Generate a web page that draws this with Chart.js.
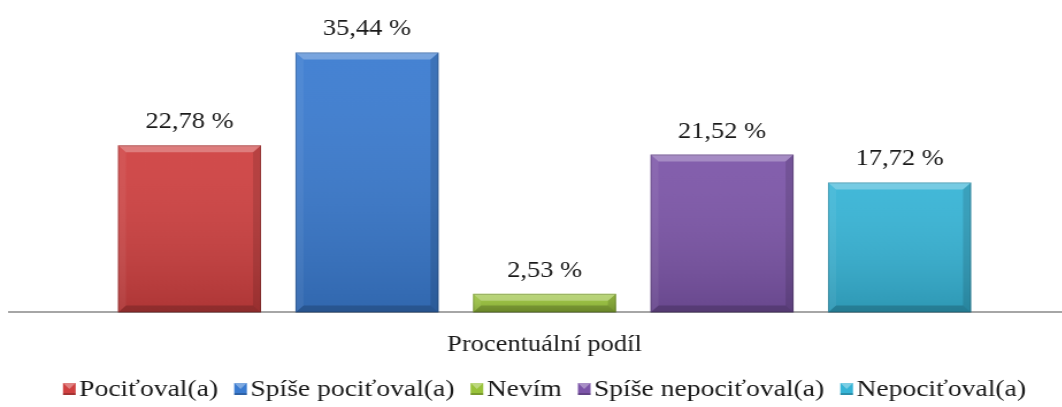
<!DOCTYPE html>
<html>
<head>
<meta charset="utf-8">
<script src="https://cdn.jsdelivr.net/npm/chart.js@4"></script>
<style>
  html, body { margin: 0; padding: 0; background: #fff; overflow: hidden; }
  /* the reference is a bit stretched sideways, so the whole chart is too */
  #wrap { position: relative; width: 947px; height: 407px; transform: scaleX(1.15); transform-origin: 0 0; }
</style>
</head>
<body>
<div id="wrap"><canvas id="chart"></canvas></div>
<script>
// data
const categories = ['Procentuální podíl'];
const seriesNames = ['Pociťoval(a)', 'Spíše pociťoval(a)', 'Nevím', 'Spíše nepociťoval(a)', 'Nepociťoval(a)'];
const seriesValues = [22.78, 35.44, 2.53, 21.52, 17.72];
const seriesColors = ['#cf4040', '#3a7bd0', '#98c23a', '#7c55a8', '#36b4d6'];

const serif = "'Liberation Serif', 'DejaVu Serif', serif";

// value labels above the bars
const valueLabels = {
  id: 'valueLabels',
  afterDatasetsDraw(chart) {
    const ctx = chart.ctx;
    ctx.save();
    ctx.font = '23px ' + serif;
    ctx.fillStyle = '#1a1a1a';
    ctx.textAlign = 'center';
    ctx.textBaseline = 'alphabetic';
    chart.data.datasets.forEach((ds, i) => {
      chart.getDatasetMeta(i).data.forEach((bar, j) => {
        const txt = ds.data[j].toFixed(2).replace('.', ',') + ' %';
        ctx.fillText(txt, bar.x, bar.y - 17);
      });
    });
    ctx.restore();
  }
};

// bevel look like the office charts
const bevel = {
  id: 'bevel',
  afterDatasetsDraw(chart) {
    const ctx = chart.ctx;
    chart.data.datasets.forEach((ds, i) => {
      chart.getDatasetMeta(i).data.forEach(bar => {
        const p = bar.getProps(['x', 'y', 'base', 'width'], true);
        const l = p.x - p.width / 2, r = p.x + p.width / 2;
        const t = p.y, b = p.base;
        const h = b - t;
        const s = Math.min(7, h / 2);
        ctx.save();
        // vertical shading
        const g = ctx.createLinearGradient(0, t, 0, b);
        g.addColorStop(0, 'rgba(255,255,255,0.06)');
        g.addColorStop(1, 'rgba(0,0,0,0.16)');
        ctx.fillStyle = g;
        ctx.fillRect(l, t, r - l, h);
        // top edge
        ctx.fillStyle = 'rgba(255,255,255,0.28)';
        ctx.beginPath();
        ctx.moveTo(l, t); ctx.lineTo(r, t); ctx.lineTo(r - s, t + s); ctx.lineTo(l + s, t + s);
        ctx.closePath(); ctx.fill();
        // left edge
        ctx.fillStyle = 'rgba(255,255,255,0.06)';
        ctx.beginPath();
        ctx.moveTo(l, t); ctx.lineTo(l + s, t + s); ctx.lineTo(l + s, b - s); ctx.lineTo(l, b);
        ctx.closePath(); ctx.fill();
        // right edge
        ctx.fillStyle = 'rgba(0,0,0,0.12)';
        ctx.beginPath();
        ctx.moveTo(r, t); ctx.lineTo(r - s, t + s); ctx.lineTo(r - s, b - s); ctx.lineTo(r, b);
        ctx.closePath(); ctx.fill();
        // bottom edge
        ctx.fillStyle = 'rgba(0,0,0,0.18)';
        ctx.beginPath();
        ctx.moveTo(l, b); ctx.lineTo(l + s, b - s); ctx.lineTo(r - s, b - s); ctx.lineTo(r, b);
        ctx.closePath(); ctx.fill();
        ctx.strokeStyle = 'rgba(0,0,0,0.18)';
        ctx.lineWidth = 1;
        ctx.strokeRect(l + 0.5, t + 0.5, r - l - 1, h - 1);
        ctx.restore();
      });
    });
  }
};

// legend drawn by hand: small square close to its text
const bottomLegend = {
  id: 'bottomLegend',
  afterDraw(chart) {
    const ctx = chart.ctx;
    const box = 11, gap = 3, sep = 14, y = 389;
    ctx.save();
    ctx.font = '24px ' + serif;
    const items = chart.data.datasets.map(ds => ({
      text: ds.label, color: ds.backgroundColor, w: ctx.measureText(ds.label).width
    }));
    const total = items.reduce((a, it) => a + box + gap + it.w, 0) + sep * (items.length - 1);
    let x = (chart.width - total) / 2;
    ctx.textBaseline = 'middle';
    ctx.textAlign = 'left';
    items.forEach(it => {
      const top = y - 6;
      ctx.fillStyle = it.color;
      ctx.fillRect(x, top, box, 12);
      ctx.fillStyle = 'rgba(255,255,255,0.35)';
      ctx.beginPath();
      ctx.moveTo(x, top); ctx.lineTo(x + box, top); ctx.lineTo(x + box / 2, top + 6);
      ctx.closePath(); ctx.fill();
      ctx.fillStyle = 'rgba(0,0,0,0.2)';
      ctx.fillRect(x, top + 10, box, 2);
      ctx.fillStyle = '#1a1a1a';
      ctx.fillText(it.text, x + box + gap, y + 1);
      x += box + gap + it.w + sep;
    });
    ctx.restore();
  }
};

const ctx = document.getElementById('chart').getContext('2d');
new Chart(ctx, {
  type: 'bar',
  data: {
    labels: categories,
    datasets: seriesNames.map((name, i) => ({
      label: name,
      data: [seriesValues[i]],
      backgroundColor: seriesColors[i],
      borderWidth: 0,
      categoryPercentage: 0.829,
      barPercentage: 0.806
    }))
  },
  options: {
    responsive: true,
    maintainAspectRatio: false,
    animation: false,
    layout: { padding: { left: 8, right: 8, top: 19, bottom: 37 } },
    scales: {
      x: {
        grid: { display: false },
        border: { color: '#a6a6a6', width: 2 },
        ticks: { color: '#1a1a1a', font: { family: serif, size: 23 }, padding: 11 }
      },
      y: {
        display: false,
        min: 0,
        max: 40
      }
    },
    plugins: {
      legend: { display: false },
      tooltip: { enabled: false }
    }
  },
  plugins: [valueLabels, bevel, bottomLegend]
});
</script>
</body>
</html>
